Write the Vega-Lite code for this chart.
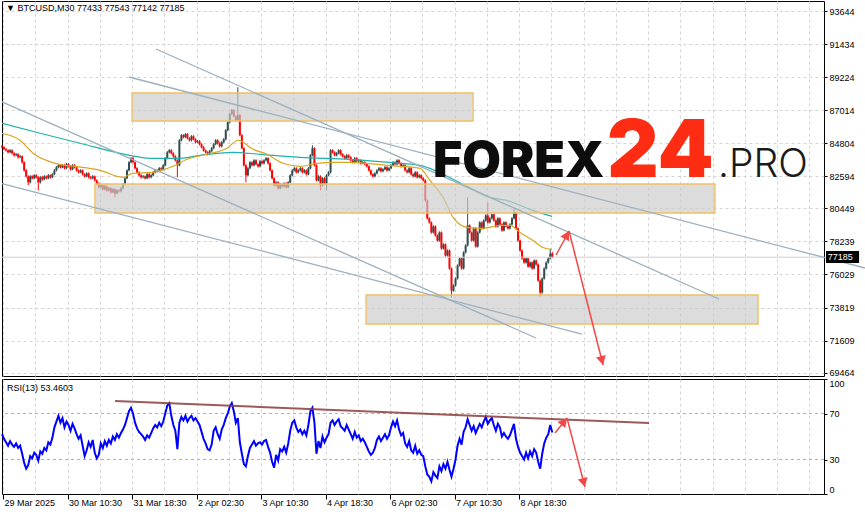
{
  "$schema": "https://vega.github.io/schema/vega-lite/v6.json",
  "background": "#ffffff",
  "padding": {"left": -3, "top": 0, "right": 0, "bottom": 0},
  "bounds": "flush",
  "spacing": 3,
  "config": {
    "view": {"stroke": "#000000", "strokeWidth": 1},
    "axis": {"labelFont": "Liberation Sans", "labelFontSize": 9, "labelColor": "#000000", "gridColor": "#d4d4d4", "gridDash": [3, 3], "domain": false, "tickColor": "#000000", "tickSize": 3, "labelPadding": 2, "title": null, "tickCount": 100},
    "text": {"font": "Liberation Sans"}
  },
  "datasets": {
    "bars": [
      {"t":0,"o":84600,"h":84680,"l":84450,"c":84540,"r":52},
      {"t":1,"o":84540,"h":84610,"l":84330,"c":84400,"r":48},
      {"t":2,"o":84400,"h":84480,"l":84240,"c":84330,"r":45},
      {"t":3,"o":84330,"h":84410,"l":84120,"c":84200,"r":42},
      {"t":4,"o":84200,"h":84420,"l":84140,"c":84330,"r":46},
      {"t":5,"o":84330,"h":84400,"l":84050,"c":84130,"r":43},
      {"t":6,"o":84130,"h":84210,"l":83910,"c":84000,"r":41},
      {"t":7,"o":84000,"h":84150,"l":83930,"c":84070,"r":44},
      {"t":8,"o":84070,"h":84140,"l":83780,"c":83870,"r":40},
      {"t":9,"o":83870,"h":84020,"l":83800,"c":83930,"r":42},
      {"t":10,"o":83930,"h":83990,"l":83450,"c":83530,"r":35},
      {"t":11,"o":83530,"h":83600,"l":82900,"c":82990,"r":27},
      {"t":12,"o":82990,"h":83080,"l":82510,"c":82590,"r":22},
      {"t":13,"o":82590,"h":82650,"l":81990,"c":82190,"r":25},
      {"t":14,"o":82190,"h":82670,"l":82120,"c":82590,"r":33},
      {"t":15,"o":82590,"h":82660,"l":82390,"c":82460,"r":31},
      {"t":16,"o":82460,"h":82740,"l":82400,"c":82660,"r":36},
      {"t":17,"o":82660,"h":82730,"l":82450,"c":82530,"r":34},
      {"t":18,"o":82530,"h":82600,"l":81650,"c":82190,"r":29},
      {"t":19,"o":82190,"h":82610,"l":82110,"c":82530,"r":37},
      {"t":20,"o":82530,"h":82620,"l":82300,"c":82390,"r":35},
      {"t":21,"o":82390,"h":82670,"l":82330,"c":82590,"r":40},
      {"t":22,"o":82590,"h":82650,"l":82380,"c":82460,"r":38},
      {"t":23,"o":82460,"h":82750,"l":82400,"c":82660,"r":45},
      {"t":24,"o":82660,"h":82720,"l":82440,"c":82530,"r":43},
      {"t":25,"o":82530,"h":82810,"l":82470,"c":82730,"r":49},
      {"t":26,"o":82730,"h":83080,"l":82670,"c":82990,"r":58},
      {"t":27,"o":82990,"h":83280,"l":82920,"c":83200,"r":63},
      {"t":28,"o":83200,"h":83420,"l":83130,"c":83330,"r":68},
      {"t":29,"o":83330,"h":83400,"l":83120,"c":83200,"r":62},
      {"t":30,"o":83200,"h":83410,"l":83140,"c":83330,"r":66},
      {"t":31,"o":83330,"h":83400,"l":83060,"c":83130,"r":58},
      {"t":32,"o":83130,"h":83480,"l":83070,"c":83400,"r":63},
      {"t":33,"o":83400,"h":83470,"l":83180,"c":83260,"r":60},
      {"t":34,"o":83260,"h":83320,"l":82980,"c":83060,"r":55},
      {"t":35,"o":83060,"h":83410,"l":83000,"c":83330,"r":61},
      {"t":36,"o":83330,"h":83400,"l":83120,"c":83200,"r":57},
      {"t":37,"o":83200,"h":83270,"l":82910,"c":82990,"r":52},
      {"t":38,"o":82990,"h":83060,"l":82780,"c":82860,"r":48},
      {"t":39,"o":82860,"h":83070,"l":82800,"c":82990,"r":51},
      {"t":40,"o":82990,"h":83050,"l":82650,"c":82730,"r":42},
      {"t":41,"o":82730,"h":82800,"l":82510,"c":82590,"r":33},
      {"t":42,"o":82590,"h":82870,"l":82530,"c":82790,"r":38},
      {"t":43,"o":82790,"h":82860,"l":82450,"c":82530,"r":45},
      {"t":44,"o":82530,"h":82600,"l":82380,"c":82460,"r":41},
      {"t":45,"o":82460,"h":82670,"l":82400,"c":82590,"r":47},
      {"t":46,"o":82590,"h":82650,"l":82250,"c":82320,"r":36},
      {"t":47,"o":82320,"h":82390,"l":82040,"c":82120,"r":31},
      {"t":48,"o":82120,"h":82190,"l":81780,"c":81860,"r":34},
      {"t":49,"o":81860,"h":82070,"l":81790,"c":81990,"r":44},
      {"t":50,"o":81990,"h":82060,"l":81640,"c":81720,"r":40},
      {"t":51,"o":81720,"h":82000,"l":81650,"c":81920,"r":46},
      {"t":52,"o":81920,"h":81990,"l":81570,"c":81650,"r":42},
      {"t":53,"o":81650,"h":81870,"l":81580,"c":81790,"r":47},
      {"t":54,"o":81790,"h":81860,"l":81440,"c":81520,"r":44},
      {"t":55,"o":81520,"h":81800,"l":81460,"c":81720,"r":50},
      {"t":56,"o":81720,"h":81790,"l":81190,"c":81450,"r":47},
      {"t":57,"o":81450,"h":81730,"l":81390,"c":81650,"r":52},
      {"t":58,"o":81650,"h":81720,"l":81510,"c":81590,"r":49},
      {"t":59,"o":81590,"h":81870,"l":81520,"c":81790,"r":53},
      {"t":60,"o":81790,"h":82140,"l":81720,"c":82060,"r":56},
      {"t":61,"o":82060,"h":82540,"l":81990,"c":82460,"r":60},
      {"t":62,"o":82460,"h":83070,"l":82400,"c":82990,"r":66},
      {"t":63,"o":82990,"h":83610,"l":82920,"c":83530,"r":72},
      {"t":64,"o":83530,"h":83870,"l":83460,"c":83800,"r":75},
      {"t":65,"o":83800,"h":83930,"l":83450,"c":83530,"r":70},
      {"t":66,"o":83530,"h":83600,"l":83060,"c":83130,"r":62},
      {"t":67,"o":83130,"h":83200,"l":82780,"c":82860,"r":57},
      {"t":68,"o":82860,"h":82930,"l":82580,"c":82660,"r":54},
      {"t":69,"o":82660,"h":82740,"l":82450,"c":82530,"r":52},
      {"t":70,"o":82530,"h":82680,"l":82460,"c":82590,"r":50},
      {"t":71,"o":82590,"h":82650,"l":82380,"c":82460,"r":47},
      {"t":72,"o":82460,"h":82810,"l":82400,"c":82730,"r":51},
      {"t":73,"o":82730,"h":82800,"l":82450,"c":82530,"r":49},
      {"t":74,"o":82530,"h":82740,"l":82460,"c":82660,"r":53},
      {"t":75,"o":82660,"h":82940,"l":82590,"c":82860,"r":57},
      {"t":76,"o":82860,"h":83070,"l":82790,"c":82990,"r":60},
      {"t":77,"o":82990,"h":83060,"l":82850,"c":82930,"r":58},
      {"t":78,"o":82930,"h":83210,"l":82860,"c":83130,"r":62},
      {"t":79,"o":83130,"h":83200,"l":82990,"c":83060,"r":59},
      {"t":80,"o":83060,"h":83410,"l":82990,"c":83330,"r":63},
      {"t":81,"o":83330,"h":83880,"l":83260,"c":83800,"r":70},
      {"t":82,"o":83800,"h":84280,"l":83730,"c":84200,"r":77},
      {"t":83,"o":84200,"h":84420,"l":84130,"c":84330,"r":79},
      {"t":84,"o":84330,"h":84400,"l":84050,"c":84130,"r":68},
      {"t":85,"o":84130,"h":84200,"l":83850,"c":83930,"r":60},
      {"t":86,"o":83930,"h":84000,"l":83580,"c":83660,"r":55},
      {"t":87,"o":83660,"h":83730,"l":82530,"c":83330,"r":39},
      {"t":88,"o":83330,"h":85080,"l":83260,"c":85000,"r":62},
      {"t":89,"o":85000,"h":85420,"l":84930,"c":85340,"r":67},
      {"t":90,"o":85340,"h":85410,"l":85130,"c":85210,"r":64},
      {"t":91,"o":85210,"h":85480,"l":85140,"c":85410,"r":68},
      {"t":92,"o":85410,"h":85480,"l":85070,"c":85140,"r":63},
      {"t":93,"o":85140,"h":85210,"l":84920,"c":85000,"r":66},
      {"t":94,"o":85000,"h":85350,"l":84930,"c":85270,"r":68},
      {"t":95,"o":85270,"h":85340,"l":85000,"c":85070,"r":64},
      {"t":96,"o":85070,"h":85140,"l":84790,"c":84870,"r":66},
      {"t":97,"o":84870,"h":85010,"l":84800,"c":84940,"r":63},
      {"t":98,"o":84940,"h":85010,"l":84660,"c":84740,"r":60},
      {"t":99,"o":84740,"h":84810,"l":84460,"c":84540,"r":54},
      {"t":100,"o":84540,"h":84610,"l":84250,"c":84330,"r":48},
      {"t":101,"o":84330,"h":84400,"l":84120,"c":84200,"r":44},
      {"t":102,"o":84200,"h":84270,"l":83990,"c":84070,"r":39},
      {"t":103,"o":84070,"h":84350,"l":84000,"c":84270,"r":38},
      {"t":104,"o":84270,"h":84550,"l":84200,"c":84470,"r":43},
      {"t":105,"o":84470,"h":84820,"l":84400,"c":84740,"r":55},
      {"t":106,"o":84740,"h":85080,"l":84670,"c":85000,"r":58},
      {"t":107,"o":85000,"h":85070,"l":84720,"c":84800,"r":52},
      {"t":108,"o":84800,"h":84870,"l":84520,"c":84600,"r":48},
      {"t":109,"o":84600,"h":84950,"l":84530,"c":84870,"r":56},
      {"t":110,"o":84870,"h":85150,"l":84800,"c":85070,"r":60},
      {"t":111,"o":85070,"h":85750,"l":85000,"c":85670,"r":66},
      {"t":112,"o":85670,"h":86290,"l":85600,"c":86210,"r":70},
      {"t":113,"o":86210,"h":86830,"l":86140,"c":86750,"r":76},
      {"t":114,"o":86750,"h":87100,"l":86680,"c":87010,"r":79},
      {"t":115,"o":87010,"h":87080,"l":86530,"c":86610,"r":72},
      {"t":116,"o":86610,"h":86680,"l":86260,"c":86340,"r":62},
      {"t":117,"o":86340,"h":88550,"l":86270,"c":86680,"r":66},
      {"t":118,"o":86680,"h":86750,"l":85270,"c":85340,"r":45},
      {"t":119,"o":85340,"h":85410,"l":84390,"c":84470,"r":35},
      {"t":120,"o":84470,"h":84540,"l":83250,"c":83330,"r":26},
      {"t":121,"o":83330,"h":83400,"l":82190,"c":82660,"r":24},
      {"t":122,"o":82660,"h":83210,"l":82590,"c":83130,"r":33},
      {"t":123,"o":83130,"h":83610,"l":83060,"c":83530,"r":40},
      {"t":124,"o":83530,"h":83600,"l":83250,"c":83330,"r":43},
      {"t":125,"o":83330,"h":83740,"l":83260,"c":83660,"r":46},
      {"t":126,"o":83660,"h":83730,"l":83320,"c":83400,"r":42},
      {"t":127,"o":83400,"h":83470,"l":83180,"c":83260,"r":44},
      {"t":128,"o":83260,"h":83680,"l":83190,"c":83600,"r":45},
      {"t":129,"o":83600,"h":83670,"l":83380,"c":83460,"r":43},
      {"t":130,"o":83460,"h":83740,"l":83390,"c":83660,"r":46},
      {"t":131,"o":83660,"h":83880,"l":83590,"c":83800,"r":47},
      {"t":132,"o":83800,"h":83870,"l":83380,"c":83460,"r":41},
      {"t":133,"o":83460,"h":83530,"l":82910,"c":82990,"r":36},
      {"t":134,"o":82990,"h":83060,"l":82380,"c":82460,"r":28},
      {"t":135,"o":82460,"h":82530,"l":81910,"c":81990,"r":23},
      {"t":136,"o":81990,"h":82270,"l":81920,"c":82190,"r":34},
      {"t":137,"o":82190,"h":82260,"l":81710,"c":81790,"r":29},
      {"t":138,"o":81790,"h":82140,"l":81720,"c":82060,"r":39},
      {"t":139,"o":82060,"h":82130,"l":81840,"c":81920,"r":37},
      {"t":140,"o":81920,"h":82200,"l":81850,"c":82120,"r":41},
      {"t":141,"o":82120,"h":82190,"l":81780,"c":81860,"r":36},
      {"t":142,"o":81860,"h":82270,"l":81790,"c":82190,"r":44},
      {"t":143,"o":82190,"h":82740,"l":82120,"c":82660,"r":55},
      {"t":144,"o":82660,"h":83070,"l":82590,"c":82990,"r":62},
      {"t":145,"o":82990,"h":83210,"l":82920,"c":83130,"r":64},
      {"t":146,"o":83130,"h":83200,"l":82780,"c":82860,"r":58},
      {"t":147,"o":82860,"h":83070,"l":82790,"c":82990,"r":54},
      {"t":148,"o":82990,"h":83210,"l":82920,"c":83130,"r":56},
      {"t":149,"o":83130,"h":83200,"l":82780,"c":82860,"r":52},
      {"t":150,"o":82860,"h":83070,"l":82790,"c":82990,"r":55},
      {"t":151,"o":82990,"h":83060,"l":82650,"c":82730,"r":51},
      {"t":152,"o":82730,"h":83210,"l":82660,"c":83130,"r":60},
      {"t":153,"o":83130,"h":84080,"l":83060,"c":84000,"r":72},
      {"t":154,"o":84000,"h":84670,"l":83930,"c":84470,"r":75},
      {"t":155,"o":84470,"h":84540,"l":83250,"c":83330,"r":62},
      {"t":156,"o":83330,"h":83400,"l":82250,"c":82320,"r":35},
      {"t":157,"o":82320,"h":82670,"l":82250,"c":82590,"r":46},
      {"t":158,"o":82590,"h":82660,"l":81650,"c":81990,"r":40},
      {"t":159,"o":81990,"h":82540,"l":81920,"c":82460,"r":50},
      {"t":160,"o":82460,"h":82530,"l":82040,"c":82120,"r":45},
      {"t":161,"o":82120,"h":82740,"l":81650,"c":82660,"r":49},
      {"t":162,"o":82660,"h":82940,"l":82590,"c":82860,"r":52},
      {"t":163,"o":82860,"h":84410,"l":82790,"c":84330,"r":62},
      {"t":164,"o":84330,"h":84400,"l":84120,"c":84200,"r":64},
      {"t":165,"o":84200,"h":84270,"l":83920,"c":84000,"r":60},
      {"t":166,"o":84000,"h":84210,"l":83930,"c":84130,"r":63},
      {"t":167,"o":84130,"h":84410,"l":84060,"c":84330,"r":65},
      {"t":168,"o":84330,"h":84400,"l":83990,"c":84070,"r":59},
      {"t":169,"o":84070,"h":84140,"l":83850,"c":83930,"r":57},
      {"t":170,"o":83930,"h":84000,"l":83720,"c":83800,"r":55},
      {"t":171,"o":83800,"h":84080,"l":83730,"c":84000,"r":60},
      {"t":172,"o":84000,"h":84070,"l":83790,"c":83870,"r":56},
      {"t":173,"o":83870,"h":83940,"l":83580,"c":83660,"r":52},
      {"t":174,"o":83660,"h":83730,"l":83450,"c":83530,"r":48},
      {"t":175,"o":83530,"h":83880,"l":83460,"c":83800,"r":54},
      {"t":176,"o":83800,"h":83870,"l":83520,"c":83600,"r":49},
      {"t":177,"o":83600,"h":83740,"l":83530,"c":83660,"r":51},
      {"t":178,"o":83660,"h":83730,"l":83380,"c":83460,"r":46},
      {"t":179,"o":83460,"h":83610,"l":83390,"c":83530,"r":48},
      {"t":180,"o":83530,"h":83600,"l":83320,"c":83400,"r":45},
      {"t":181,"o":83400,"h":83470,"l":83180,"c":83260,"r":41},
      {"t":182,"o":83260,"h":83330,"l":82910,"c":82990,"r":37},
      {"t":183,"o":82990,"h":83060,"l":82650,"c":82730,"r":34},
      {"t":184,"o":82730,"h":82800,"l":82510,"c":82590,"r":36},
      {"t":185,"o":82590,"h":82870,"l":82520,"c":82790,"r":40},
      {"t":186,"o":82790,"h":83070,"l":82720,"c":82990,"r":47},
      {"t":187,"o":82990,"h":83210,"l":82920,"c":83130,"r":50},
      {"t":188,"o":83130,"h":83200,"l":82850,"c":82930,"r":46},
      {"t":189,"o":82930,"h":83140,"l":82860,"c":83060,"r":49},
      {"t":190,"o":83060,"h":83280,"l":82990,"c":83200,"r":52},
      {"t":191,"o":83200,"h":83270,"l":82910,"c":82990,"r":48},
      {"t":192,"o":82990,"h":83210,"l":82920,"c":83130,"r":51},
      {"t":193,"o":83130,"h":83410,"l":83060,"c":83330,"r":58},
      {"t":194,"o":83330,"h":83610,"l":83260,"c":83530,"r":63},
      {"t":195,"o":83530,"h":83600,"l":83320,"c":83400,"r":59},
      {"t":196,"o":83400,"h":83740,"l":83330,"c":83660,"r":64},
      {"t":197,"o":83660,"h":83730,"l":83380,"c":83460,"r":56},
      {"t":198,"o":83460,"h":83530,"l":83180,"c":83260,"r":51},
      {"t":199,"o":83260,"h":83410,"l":83190,"c":83330,"r":53},
      {"t":200,"o":83330,"h":83400,"l":82910,"c":82990,"r":44},
      {"t":201,"o":82990,"h":83060,"l":82780,"c":82860,"r":41},
      {"t":202,"o":82860,"h":83210,"l":82790,"c":83130,"r":46},
      {"t":203,"o":83130,"h":83200,"l":82650,"c":82730,"r":38},
      {"t":204,"o":82730,"h":82800,"l":82510,"c":82590,"r":36},
      {"t":205,"o":82590,"h":82940,"l":82520,"c":82860,"r":42},
      {"t":206,"o":82860,"h":82930,"l":82450,"c":82530,"r":35},
      {"t":207,"o":82530,"h":82740,"l":82460,"c":82660,"r":38},
      {"t":208,"o":82660,"h":82730,"l":82380,"c":82460,"r":34},
      {"t":209,"o":82460,"h":82530,"l":82240,"c":82320,"r":33},
      {"t":210,"o":82320,"h":82390,"l":80900,"c":80980,"r":24},
      {"t":211,"o":80980,"h":81050,"l":79700,"c":79780,"r":17},
      {"t":212,"o":79780,"h":79850,"l":79430,"c":79510,"r":15},
      {"t":213,"o":79510,"h":79580,"l":78760,"c":78840,"r":11},
      {"t":214,"o":78840,"h":79320,"l":78770,"c":79240,"r":19},
      {"t":215,"o":79240,"h":79310,"l":78560,"c":78640,"r":16},
      {"t":216,"o":78640,"h":78710,"l":78220,"c":78300,"r":14},
      {"t":217,"o":78300,"h":78920,"l":78230,"c":78840,"r":24},
      {"t":218,"o":78840,"h":78910,"l":77690,"c":77770,"r":20},
      {"t":219,"o":77770,"h":78120,"l":77700,"c":78040,"r":26},
      {"t":220,"o":78040,"h":78110,"l":77220,"c":77300,"r":22},
      {"t":221,"o":77300,"h":77710,"l":77230,"c":77630,"r":28},
      {"t":222,"o":77630,"h":77700,"l":76350,"c":76430,"r":21},
      {"t":223,"o":76430,"h":76500,"l":74490,"c":74950,"r":15},
      {"t":224,"o":74950,"h":75370,"l":74880,"c":75290,"r":22},
      {"t":225,"o":75290,"h":75840,"l":75220,"c":75760,"r":30},
      {"t":226,"o":75760,"h":76710,"l":75690,"c":76630,"r":42},
      {"t":227,"o":76630,"h":77180,"l":76560,"c":77100,"r":48},
      {"t":228,"o":77100,"h":77170,"l":76350,"c":76430,"r":43},
      {"t":229,"o":76430,"h":77580,"l":76360,"c":77500,"r":54},
      {"t":230,"o":77500,"h":78050,"l":77430,"c":77970,"r":58},
      {"t":231,"o":77970,"h":81180,"l":77900,"c":79310,"r":65},
      {"t":232,"o":79310,"h":79380,"l":78760,"c":78840,"r":60},
      {"t":233,"o":78840,"h":78910,"l":78220,"c":78300,"r":55},
      {"t":234,"o":78300,"h":79190,"l":78230,"c":79110,"r":59},
      {"t":235,"o":79110,"h":79180,"l":77820,"c":77900,"r":53},
      {"t":236,"o":77900,"h":78920,"l":77830,"c":78840,"r":57},
      {"t":237,"o":78840,"h":79590,"l":78770,"c":79510,"r":61},
      {"t":238,"o":79510,"h":79580,"l":79030,"c":79110,"r":58},
      {"t":239,"o":79110,"h":79720,"l":79040,"c":79640,"r":63},
      {"t":240,"o":79640,"h":80060,"l":79570,"c":79980,"r":67},
      {"t":241,"o":79980,"h":80840,"l":79430,"c":79510,"r":61},
      {"t":242,"o":79510,"h":79860,"l":79440,"c":79780,"r":64},
      {"t":243,"o":79780,"h":80130,"l":79710,"c":80050,"r":66},
      {"t":244,"o":80050,"h":80120,"l":79560,"c":79640,"r":60},
      {"t":245,"o":79640,"h":79710,"l":79160,"c":79240,"r":55},
      {"t":246,"o":79240,"h":79860,"l":79170,"c":79780,"r":61},
      {"t":247,"o":79780,"h":79850,"l":79300,"c":79380,"r":58},
      {"t":248,"o":79380,"h":79450,"l":78890,"c":78970,"r":50},
      {"t":249,"o":78970,"h":79590,"l":78900,"c":79510,"r":53},
      {"t":250,"o":79510,"h":79580,"l":79160,"c":79240,"r":50},
      {"t":251,"o":79240,"h":79310,"l":79030,"c":79110,"r":48},
      {"t":252,"o":79110,"h":79460,"l":79040,"c":79380,"r":51},
      {"t":253,"o":79380,"h":79860,"l":79310,"c":79780,"r":56},
      {"t":254,"o":79780,"h":80450,"l":79710,"c":80180,"r":61},
      {"t":255,"o":80180,"h":80250,"l":79030,"c":79110,"r":48},
      {"t":256,"o":79110,"h":79180,"l":78220,"c":78300,"r":41},
      {"t":257,"o":78300,"h":78370,"l":77550,"c":77630,"r":36},
      {"t":258,"o":77630,"h":77700,"l":77020,"c":77100,"r":33},
      {"t":259,"o":77100,"h":77170,"l":76750,"c":76830,"r":30},
      {"t":260,"o":76830,"h":77180,"l":76760,"c":77100,"r":36},
      {"t":261,"o":77100,"h":77170,"l":76480,"c":76560,"r":31},
      {"t":262,"o":76560,"h":76910,"l":76490,"c":76830,"r":37},
      {"t":263,"o":76830,"h":76900,"l":76350,"c":76430,"r":33},
      {"t":264,"o":76430,"h":77040,"l":76360,"c":76960,"r":39},
      {"t":265,"o":76960,"h":77030,"l":76620,"c":76700,"r":36},
      {"t":266,"o":76700,"h":76770,"l":75540,"c":75620,"r":28},
      {"t":267,"o":75620,"h":75690,"l":74550,"c":74820,"r":22},
      {"t":268,"o":74820,"h":75840,"l":74750,"c":75760,"r":35},
      {"t":269,"o":75760,"h":76510,"l":75690,"c":76430,"r":44},
      {"t":270,"o":76430,"h":76910,"l":76360,"c":76830,"r":49},
      {"t":271,"o":76830,"h":77180,"l":76760,"c":77100,"r":52},
      {"t":272,"o":77100,"h":77760,"l":77030,"c":77433,"r":60},
      {"t":273,"o":77433,"h":77543,"l":77142,"c":77185,"r":53.4603}
    ],
    "ma_slow": [
      {"t":0,"p":86143},{"t":18.9,"p":85473},{"t":38.7,"p":84803},{"t":63.5,"p":83999},
      {"t":73.4,"p":83798},{"t":88.3,"p":83798},{"t":98.2,"p":83999},{"t":114.6,"p":84200},
      {"t":128.0,"p":84066},{"t":147.8,"p":83865},{"t":172.6,"p":83731},{"t":197.5,"p":83463},
      {"t":207.4,"p":83329},{"t":212.3,"p":83128},{"t":220.8,"p":82592},{"t":230.7,"p":81922},
      {"t":240.6,"p":81252},{"t":252.0,"p":80917},{"t":261.9,"p":80381},{"t":272.9,"p":79912}
    ],
    "ma_fast": [
      {"t":0,"p":85473},{"t":8.9,"p":85004},{"t":15.4,"p":84133},{"t":26.3,"p":83463},
      {"t":40.2,"p":83195},{"t":48.6,"p":82994},{"t":60.0,"p":82525},{"t":65.0,"p":82793},
      {"t":74.9,"p":82860},{"t":84.8,"p":83262},{"t":91.8,"p":83731},{"t":101.7,"p":84066},
      {"t":111.6,"p":84468},{"t":117.1,"p":85004},{"t":124.5,"p":84401},{"t":131.5,"p":84066},
      {"t":139.4,"p":83463},{"t":147.8,"p":83262},{"t":156.3,"p":83463},{"t":164.2,"p":83530},
      {"t":172.7,"p":83530},{"t":181.1,"p":83463},{"t":191.0,"p":83329},{"t":197.5,"p":83262},
      {"t":207.4,"p":83128},{"t":212.3,"p":82324},{"t":218.8,"p":81185},{"t":223.8,"p":79845},
      {"t":230.7,"p":79175},{"t":238.6,"p":79108},{"t":247.1,"p":79309},{"t":252.0,"p":79309},
      {"t":257.0,"p":78840},{"t":263.4,"p":78304},{"t":268.4,"p":77835},{"t":272.9,"p":77701}
    ],
    "zones": [
      {"t1":64.5,"t2":233.7,"p1":88163,"p2":86291},
      {"t1":46.1,"t2":353.7,"p1":82079,"p2":80140},
      {"t1":180.6,"t2":375.1,"p1":74657,"p2":72718}
    ],
    "trends": [
      {"t1":76.4,"p1":91105,"t2":355.7,"p2":74390},
      {"t1":63.0,"p1":89233,"t2":428.1,"p2":76462},
      {"t1":0,"p1":87568,"t2":264.9,"p2":71782},
      {"t1":0,"p1":82112,"t2":287.7,"p2":72050}
    ],
    "arrows_price": [
      {"t1":274.9,"p1":77332,"t2":281.3,"p2":78936},
      {"t1":281.3,"p1":78936,"t2":298.2,"p2":69975}
    ],
    "arrows_rsi": [
      {"t1":274.4,"p1":53.0,"t2":280.3,"p2":66.1},
      {"t1":280.3,"p1":66.1,"t2":289.2,"p2":6.1}
    ],
    "rsi_trend": [
      {"t1":56.1,"p1":80.9,"t2":321.0,"p2":61.7}
    ],
    "rsi_levels": [{"lvl":30},{"lvl":70}]
  },
  "vconcat": [
    {
      "width": 822,
      "height": 375,
      "layer": [
        {
          "data": {"name": "bars"},
          "mark": {"type": "rule", "strokeWidth": 1},
          "encoding": {
            "x": {"field": "t", "type": "quantitative",
                  "scale": {"domain": [0, 407.8], "nice": false, "zero": false},
                  "axis": {"values": [0.5,16.5,32.5,48.5,64.5,80.5,96.5,112.5,128.5,144.5,160.5,176.5,192.5,208.5,224.5,240.5,256.5,272.5,288.5,304.5,320.5,336.5,352.5,368.5,384.5,400.5],
                           "tickCount": 100, "labels": false, "ticks": false, "grid": true, "minExtent": 0, "maxExtent": 0}},
            "y": {"field": "l", "type": "quantitative",
                  "scale": {"domain": [69243, 94314], "nice": false, "zero": false},
                  "axis": {"orient": "right", "values": [69464,71609,73819,76029,78239,80449,82594,84804,87014,89224,91434,93644],
                           "tickCount": 100, "grid": true, "format": "d", "labelOverlap": false, "labelBound": false, "labelFlush": false}},
            "y2": {"field": "h"},
            "color": {"condition": {"test": "datum.c >= datum.o", "value": "#2f4f4f"}, "value": "#ff0000"}
          }
        },
        {
          "data": {"name": "bars"},
          "mark": {"type": "rule", "strokeWidth": 2},
          "encoding": {
            "x": {"field": "t", "type": "quantitative"},
            "y": {"field": "o", "type": "quantitative"},
            "y2": {"field": "c"},
            "color": {"condition": {"test": "datum.c >= datum.o", "value": "#2f4f4f"}, "value": "#ff0000"}
          }
        },
        {
          "data": {"name": "ma_slow"},
          "mark": {"type": "line", "color": "#20b2aa", "strokeWidth": 1.2, "interpolate": "monotone"},
          "encoding": {"x": {"field": "t", "type": "quantitative"}, "y": {"field": "p", "type": "quantitative"}}
        },
        {
          "data": {"name": "ma_fast"},
          "mark": {"type": "line", "color": "#daa520", "strokeWidth": 1.2, "interpolate": "monotone"},
          "encoding": {"x": {"field": "t", "type": "quantitative"}, "y": {"field": "p", "type": "quantitative"}}
        },
        {
          "data": {"values": [{}]},
          "mark": {"type": "rule", "color": "#cfcfcf", "strokeWidth": 1},
          "encoding": {"y": {"datum": 77185, "type": "quantitative"}}
        },
        {
          "data": {"name": "zones"},
          "mark": {"type": "rect", "fill": "#cccccc", "fillOpacity": 0.68, "stroke": "#f0c060", "strokeWidth": 1.3},
          "encoding": {
            "x": {"field": "t1", "type": "quantitative"}, "x2": {"field": "t2"},
            "y": {"field": "p1", "type": "quantitative"}, "y2": {"field": "p2"}
          }
        },
        {
          "data": {"name": "trends"},
          "mark": {"type": "rule", "color": "#9cb0bf", "strokeWidth": 1.3, "clip": false},
          "encoding": {
            "x": {"field": "t1", "type": "quantitative"}, "x2": {"field": "t2"},
            "y": {"field": "p1", "type": "quantitative"}, "y2": {"field": "p2"}
          }
        },
        {
          "data": {"name": "arrows_price"},
          "mark": {"type": "rule", "color": "#f24848", "strokeWidth": 1.5},
          "encoding": {
            "x": {"field": "t1", "type": "quantitative"}, "x2": {"field": "t2"},
            "y": {"field": "p1", "type": "quantitative"}, "y2": {"field": "p2"}
          }
        },
        {
          "data": {"values": [{}]},
          "mark": {"type": "point", "shape": "M0,0L-0.55,1L0.55,1Z", "filled": true, "size": 324, "color": "#f24848", "opacity": 1, "angle": 28.4},
          "encoding": {"x": {"datum": 281.3, "type": "quantitative"}, "y": {"datum": 78936, "type": "quantitative"}}
        },
        {
          "data": {"values": [{}]},
          "mark": {"type": "point", "shape": "M0,0L-0.55,1L0.55,1Z", "filled": true, "size": 324, "color": "#f24848", "opacity": 1, "angle": 165.8},
          "encoding": {"x": {"datum": 298.2, "type": "quantitative"}, "y": {"datum": 69975, "type": "quantitative"}}
        },
        {
          "data": {"values": [{}]},
          "mark": {"type": "text", "text": "FOREX", "font": "Inter", "fontWeight": 900, "fontSize": 50, "color": "#0d0d0d", "align": "left", "baseline": "alphabetic"},
          "encoding": {"x": {"datum": 213.8, "type": "quantitative"}, "y": {"datum": 82547, "type": "quantitative"}}
        },
        {
          "data": {"values": [{}]},
          "mark": {"type": "text", "text": "24", "font": "Inter", "fontWeight": 900, "fontSize": 80, "color": "#fe2c12", "align": "left", "baseline": "alphabetic"},
          "encoding": {"x": {"datum": 300.1, "type": "quantitative"}, "y": {"datum": 82547, "type": "quantitative"}}
        },
        {
          "data": {"values": [{}]},
          "mark": {"type": "text", "text": ".PRO", "font": "Inter", "fontWeight": 300, "fontSize": 39, "color": "#1a1a1a", "align": "left", "baseline": "alphabetic"},
          "encoding": {"x": {"datum": 355.2, "type": "quantitative"}, "y": {"datum": 82547, "type": "quantitative"}}
        },
        {
          "data": {"values": [{}]},
          "mark": {"type": "text", "text": "▼ BTCUSD,M30  77433 77543 77142 77185", "fontSize": 9, "color": "#000000", "align": "left", "baseline": "middle"},
          "encoding": {"x": {"datum": 2.0, "type": "quantitative"}, "y": {"datum": 93813, "type": "quantitative"}}
        },
        {
          "data": {"values": [{}]},
          "mark": {"type": "rect", "color": "#000000", "clip": false},
          "encoding": {
            "x": {"datum": 408.8, "type": "quantitative"}, "x2": {"datum": 425.2},
            "y": {"datum": 77599, "type": "quantitative"}, "y2": {"datum": 76797}
          }
        },
        {
          "data": {"values": [{}]},
          "mark": {"type": "text", "text": "77185", "fontSize": 9, "color": "#ffffff", "align": "left", "baseline": "middle", "clip": false},
          "encoding": {"x": {"datum": 409.6, "type": "quantitative"}, "y": {"datum": 77185, "type": "quantitative"}}
        }
      ]
    },
    {
      "width": 822,
      "height": 115,
      "layer": [
        {
          "data": {"name": "rsi_levels"},
          "mark": {"type": "rule", "color": "#b0b0b0", "strokeDash": [3, 3], "strokeWidth": 1},
          "encoding": {"y": {"field": "lvl", "type": "quantitative", "scale": {"domain": [0, 100], "nice": false, "zero": false},
                             "axis": {"orient": "right", "values": [0, 30, 70, 100], "tickCount": 100, "grid": false, "labelFlush": true, "labelOverlap": false}}}
        },
        {
          "data": {"name": "bars"},
          "mark": {"type": "line", "color": "#0000ff", "strokeWidth": 2},
          "encoding": {
            "x": {"field": "t", "type": "quantitative",
                  "scale": {"domain": [0, 407.8], "nice": false, "zero": false},
                  "axis": {"values": [0.5,16.5,32.5,48.5,64.5,80.5,96.5,112.5,128.5,144.5,160.5,176.5,192.5,208.5,224.5,240.5,256.5,272.5,288.5,304.5,320.5,336.5,352.5,368.5,384.5,400.5],
                           "tickCount": 100, "grid": true, "tickSize": 5, "labelAlign": "left", "labelBaseline": "top", "labelPadding": -1, "labelOffset": 1,
                           "labelOverlap": false, "labelBound": false, "labelFlush": false,
                           "tickColor": {"condition": {"test": "(datum.value - 0.5) % 32 == 0 && datum.value < 260", "value": "#000000"}, "value": "transparent"},
                           "labelExpr": "(datum.value - 0.5) % 32 == 0 && datum.value < 260 ? ['29 Mar 2025','30 Mar 10:30','31 Mar 18:30','2 Apr 02:30','3 Apr 10:30','4 Apr 18:30','6 Apr 02:30','7 Apr 10:30','8 Apr 18:30'][(datum.value - 0.5) / 32] : ''"}},
            "y": {"field": "r", "type": "quantitative"}
          }
        },
        {
          "data": {"name": "rsi_trend"},
          "mark": {"type": "rule", "color": "#8b3c3c", "strokeWidth": 2, "opacity": 0.85},
          "encoding": {
            "x": {"field": "t1", "type": "quantitative"}, "x2": {"field": "t2"},
            "y": {"field": "p1", "type": "quantitative"}, "y2": {"field": "p2"}
          }
        },
        {
          "data": {"name": "arrows_rsi"},
          "mark": {"type": "rule", "color": "#f24848", "strokeWidth": 1.5},
          "encoding": {
            "x": {"field": "t1", "type": "quantitative"}, "x2": {"field": "t2"},
            "y": {"field": "p1", "type": "quantitative"}, "y2": {"field": "p2"}
          }
        },
        {
          "data": {"values": [{}]},
          "mark": {"type": "point", "shape": "M0,0L-0.55,1L0.55,1Z", "filled": true, "size": 324, "color": "#f24848", "opacity": 1, "angle": 38.7},
          "encoding": {"x": {"datum": 280.3, "type": "quantitative"}, "y": {"datum": 66.1, "type": "quantitative"}}
        },
        {
          "data": {"values": [{}]},
          "mark": {"type": "point", "shape": "M0,0L-0.55,1L0.55,1Z", "filled": true, "size": 324, "color": "#f24848", "opacity": 1, "angle": 165.4},
          "encoding": {"x": {"datum": 289.2, "type": "quantitative"}, "y": {"datum": 6.1, "type": "quantitative"}}
        },
        {
          "data": {"values": [{}]},
          "mark": {"type": "text", "text": "RSI(13) 53.4603", "fontSize": 9, "color": "#000000", "align": "left", "baseline": "middle"},
          "encoding": {"x": {"datum": 2.5, "type": "quantitative"}, "y": {"datum": 92.2, "type": "quantitative"}}
        }
      ]
    }
  ]
}
